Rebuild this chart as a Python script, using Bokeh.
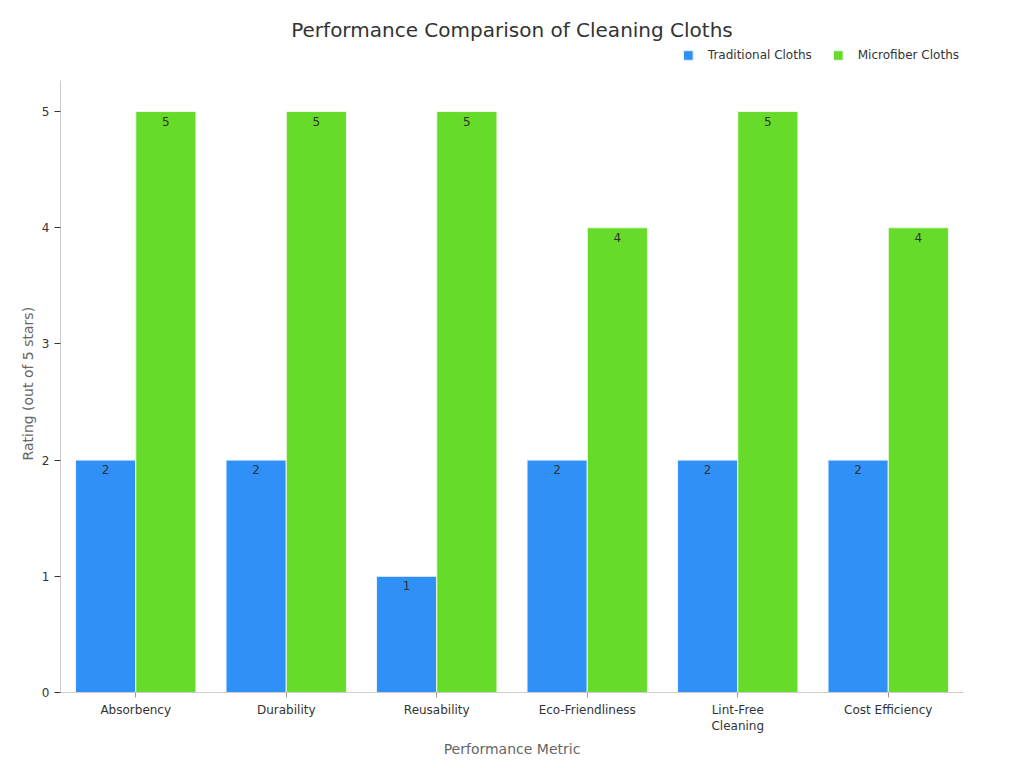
from bokeh.plotting import figure
from bokeh.models import ColumnDataSource, FactorRange, Range1d, Legend, LegendItem, LabelSet, Title, FixedTicker
from bokeh.core.properties import value
from bokeh.transform import dodge
from bokeh.embed import file_html
from bokeh.resources import INLINE

metrics = ["Absorbency", "Durability", "Reusability", "Eco-Friendliness", "Lint-Free\nCleaning", "Cost Efficiency"]
traditional = [2, 2, 1, 2, 2, 2]
microfiber = [5, 5, 5, 4, 5, 4]
y_ticks = [0, 1, 2, 3, 4, 5]
Y_AXIS_TOP = 5.27

BLUE = "#2f91f7"
GREEN = "#67db29"
FONT = "DejaVu Sans"

src = ColumnDataSource(dict(
    metric=metrics,
    trad=traditional,
    micro=microfiber,
    trad_txt=[str(v) for v in traditional],
    micro_txt=[str(v) for v in microfiber],
))

# the frame reaches up to the legend row; the axis line stops at Y_AXIS_TOP
p = figure(
    width=1024, height=768,
    x_range=FactorRange(*metrics, range_padding=0),
    y_range=Range1d(0, 5.577),
    output_backend="svg", toolbar_location=None,
    min_border_left=60, min_border_right=61, min_border_top=44, min_border_bottom=76,
)

p.title.text = "Performance Comparison of Cleaning Cloths"
p.title.text_font = FONT
p.title.text_font_size = "20px"
p.title.text_font_style = "normal"
p.title.text_color = "#333333"
p.title.align = "center"
p.title.standoff = 5

r1 = p.vbar(x=dodge("metric", -0.2, range=p.x_range), top="trad", width=0.4, source=src,
            fill_color=BLUE, line_color="#e8f2fc", line_width=1)
r2 = p.vbar(x=dodge("metric", 0.2, range=p.x_range), top="micro", width=0.4, source=src,
            fill_color=GREEN, line_color="#eef9e8", line_width=1)

for col, off in (("trad", -0.2), ("micro", 0.2)):
    p.add_layout(LabelSet(
        x=dodge("metric", off, range=p.x_range), y=col, text=col + "_txt", source=src,
        text_align="center", text_baseline="top", y_offset=-5,
        text_font=value(FONT), text_font_size=value("12px"), text_color="#333333",
    ))

legend = Legend(
    items=[LegendItem(label="Traditional Cloths", renderers=[r1]),
           LegendItem(label="Microfiber Cloths", renderers=[r2])],
    orientation="horizontal", location="top_right",
    label_text_font=FONT, label_text_font_size="12px", label_text_color="#333333",
    glyph_width=12, glyph_height=12, spacing=20, label_standoff=14,
    background_fill_alpha=0, border_line_alpha=0, padding=4, margin=0,
)
p.add_layout(legend, "center")

p.grid.visible = False
p.outline_line_color = None

p.yaxis.ticker = FixedTicker(ticks=y_ticks)
p.yaxis.bounds = (0, Y_AXIS_TOP)
p.xaxis.axis_label = "Performance Metric"

# y-axis title, placed so it sits centred on the drawn axis line
p.add_layout(Title(
    text="Rating (out of 5 stars)", align="left", offset=232, standoff=6,
    text_font=FONT, text_font_size="14px", text_font_style="normal", text_color="#666666",
), "left")

for ax in (p.xaxis[0], p.yaxis[0]):
    ax.axis_line_color = "#cccccc"
    ax.major_label_text_font = FONT
    ax.major_label_text_font_size = "12px"
    ax.major_label_text_color = "#333333"
    ax.axis_label_text_font = FONT
    ax.axis_label_text_font_size = "14px"
    ax.axis_label_text_font_style = "normal"
    ax.axis_label_text_color = "#666666"
    ax.minor_tick_line_color = None

p.yaxis.major_tick_line_color = "#333333"
p.yaxis.major_tick_in = 0
p.yaxis.major_tick_out = 6
p.xaxis.major_tick_line_color = "#999999"
p.xaxis.major_tick_in = 0
p.xaxis.major_tick_out = 5

open("out.html", "w").write(file_html(p, INLINE))
